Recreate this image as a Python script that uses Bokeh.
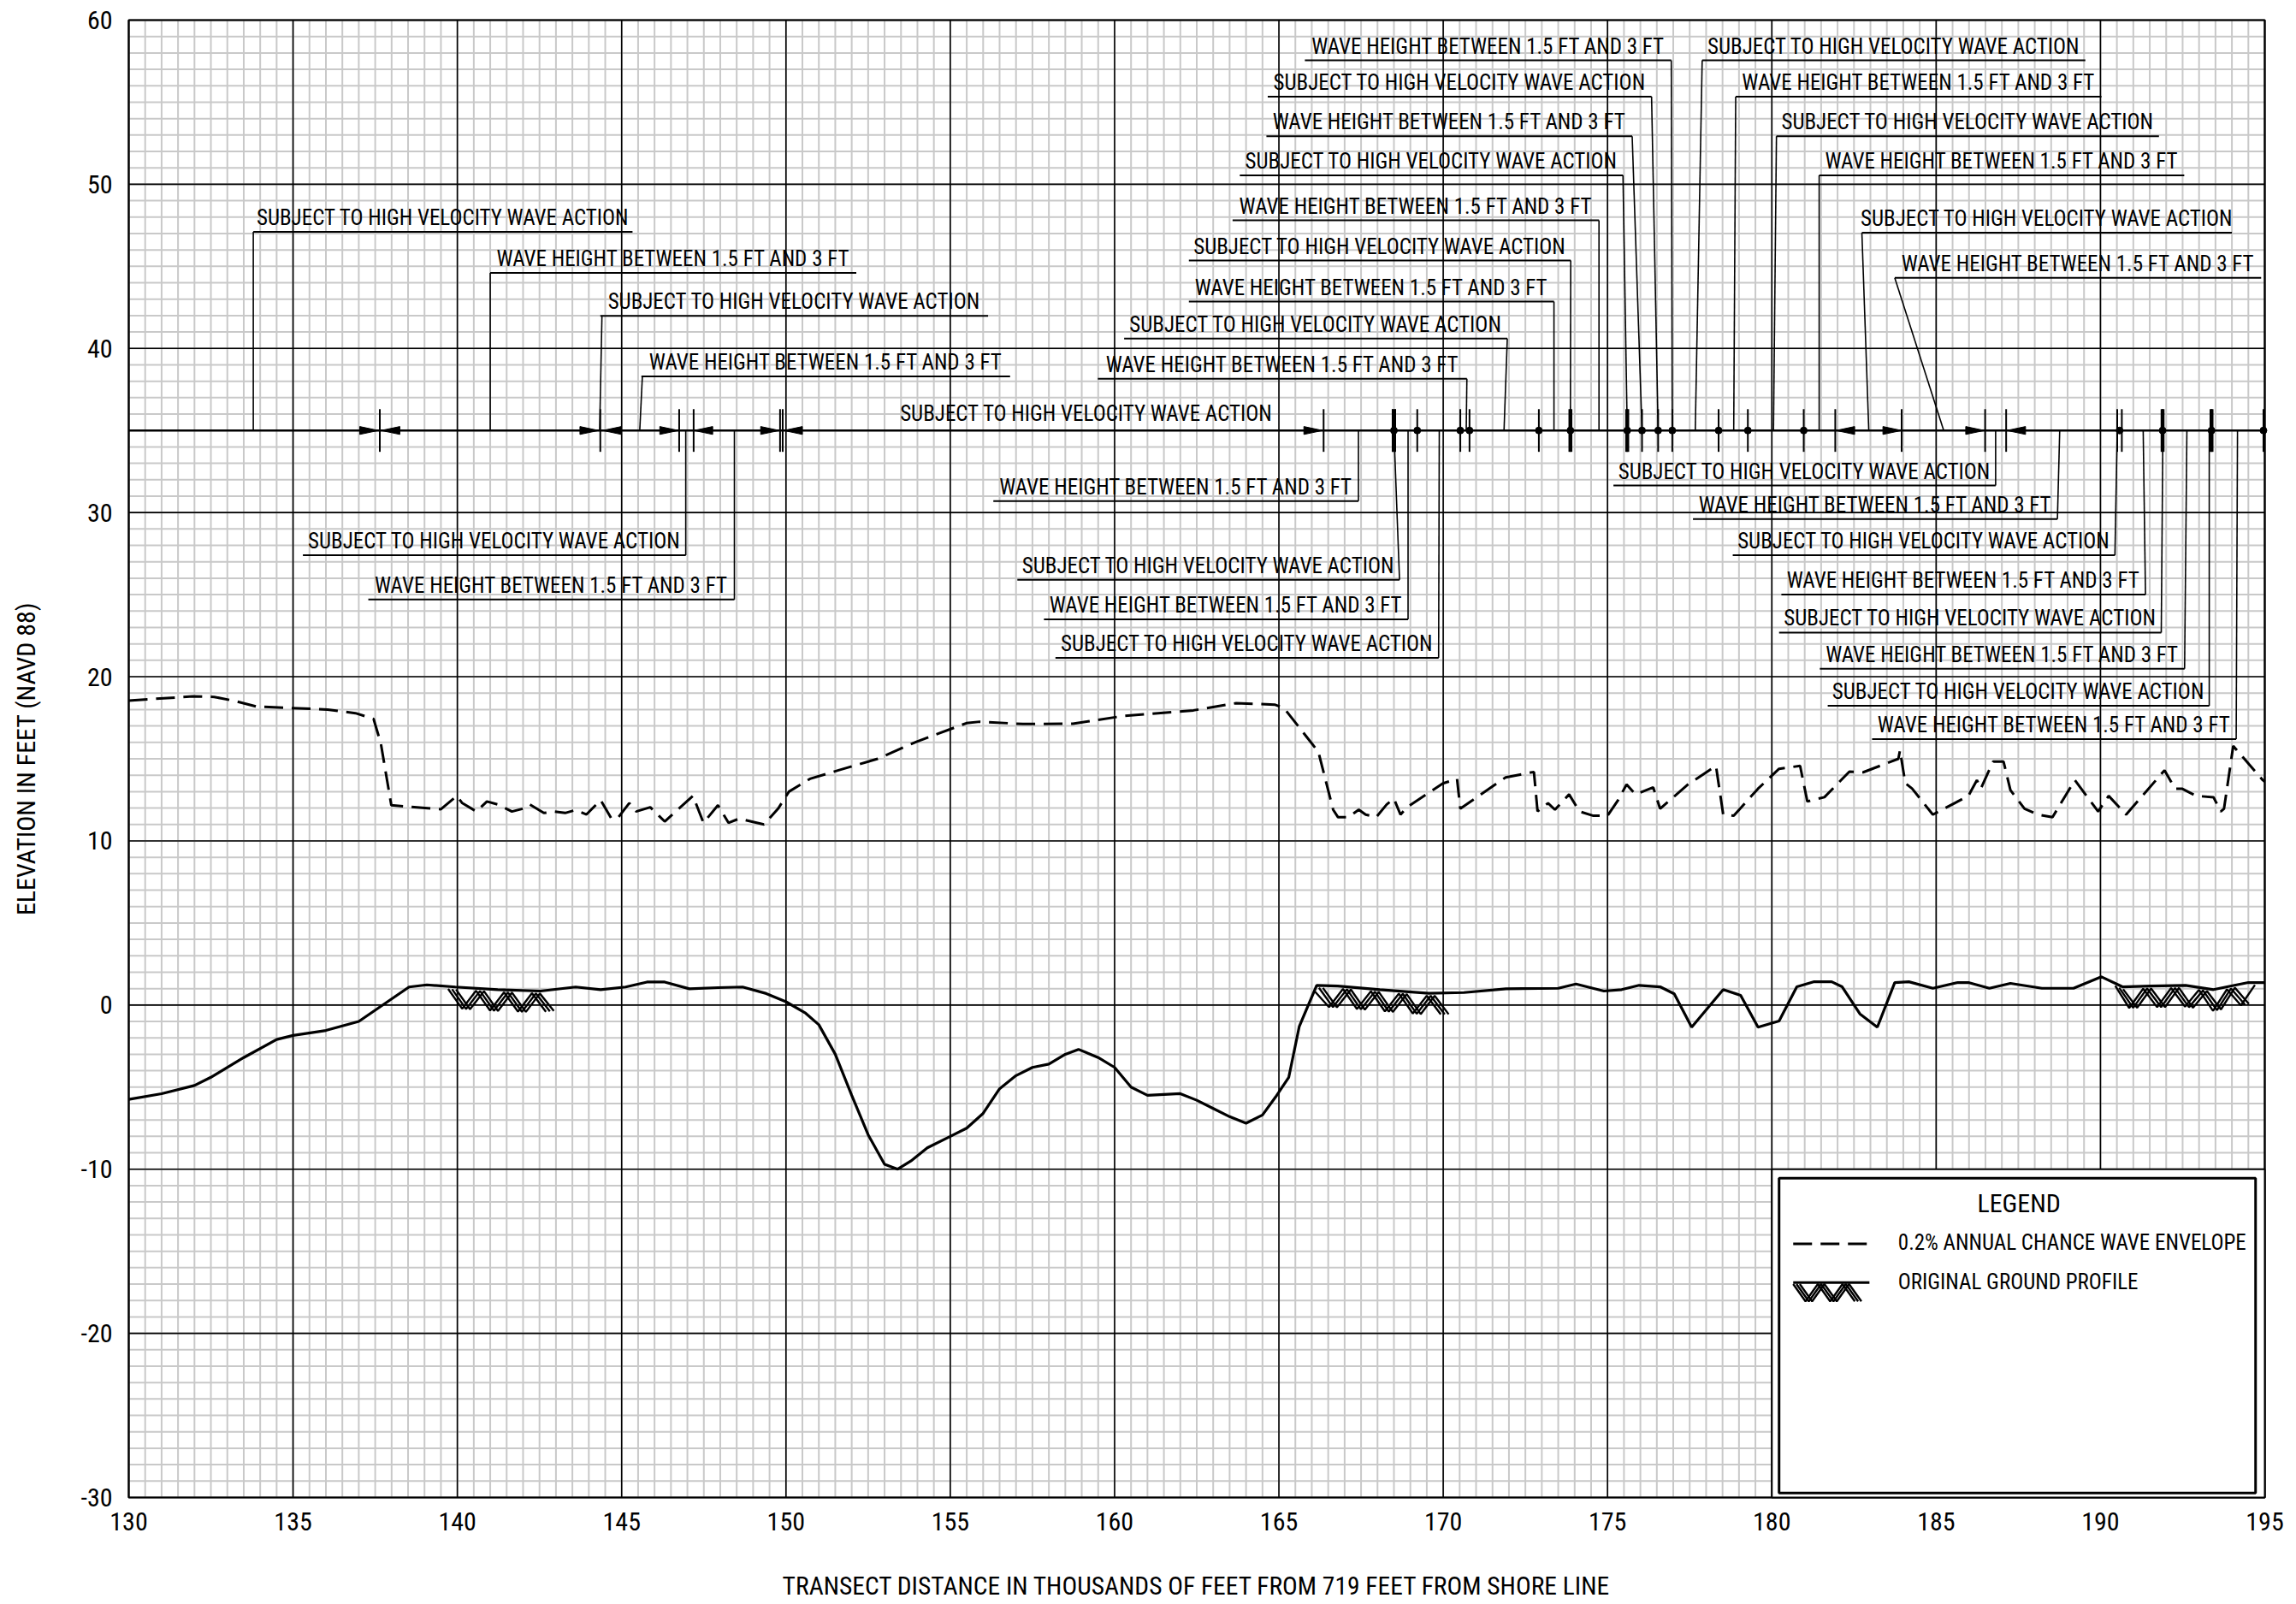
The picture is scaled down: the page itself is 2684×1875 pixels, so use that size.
import numpy as np
from bokeh.plotting import figure
from bokeh.models import Range1d, ColumnDataSource
from bokeh.core.properties import value
from bokeh.embed import file_html
from bokeh.resources import INLINE

FONT = "Roboto Condensed"
ANN_SIZE = "25px"

# ---------------- axes ----------------
X_MIN, X_MAX = 130, 195
Y_MIN, Y_MAX = -30, 60
x_major = list(range(130, 196, 5))
y_major = list(range(-30, 61, 10))
x_minor = [130 + 0.5 * i for i in range(131)]
y_minor = list(range(-30, 61))
x_title = "TRANSECT DISTANCE IN THOUSANDS OF FEET FROM 719 FEET FROM SHORE LINE"
y_title = "ELEVATION IN FEET (NAVD 88)"

# ---------------- series ----------------
env_x = [130.0, 131.94, 132.6, 133.24, 133.89, 134.97, 136.05, 136.9, 137.45, 137.67, 137.99,
         139.5, 139.98, 140.15, 140.58, 140.9, 141.23, 141.66, 141.99, 142.2, 142.63, 142.96,
         143.28, 143.6, 143.93, 144.36, 144.69, 144.9, 145.23, 145.44, 145.87, 146.31, 147.17,
         147.49, 147.93, 148.25, 148.57, 149.33, 149.76, 150.09, 150.73, 151.6, 152.79, 153.97,
         155.49, 155.9, 157.21, 158.73, 160.24, 161.32, 162.4, 163.7, 164.87, 165.15, 166.2,
         166.65, 166.8, 167.11, 167.43, 167.64, 167.96, 168.28, 168.5, 168.7, 168.9, 169.99,
         170.42, 170.52, 171.9, 172.76, 172.87, 173.19, 173.4, 173.83, 174.15, 174.57, 175.0,
         175.32, 175.58, 175.85, 176.39, 176.6, 177.45, 178.3, 178.52, 178.84, 179.58, 180.22,
         180.86, 181.08, 181.4, 181.6, 182.36, 182.78, 183.85, 183.9, 184.06, 184.27, 184.9,
         185.98, 186.24, 186.36, 186.73, 187.05, 187.26, 187.69, 188.11, 188.54, 189.22, 189.93,
         190.25, 190.78, 191.95, 192.27, 192.48, 192.91, 193.44, 193.66, 193.76, 194.04, 194.94,
         195.0]
env_y = [18.55, 18.8, 18.77, 18.52, 18.18, 18.09, 18.0, 17.78, 17.43, 15.95, 12.17,
         11.93, 12.74, 12.3, 11.79, 12.4, 12.22, 11.79, 11.96, 12.22, 11.7, 11.79,
         11.7, 11.88, 11.61, 12.48, 11.35, 11.44, 12.3, 11.79, 12.05, 11.18, 12.74,
         11.1, 12.17, 11.1, 11.35, 11.0, 11.96, 13.0, 13.78, 14.3, 15.0, 16.04,
         17.17, 17.26, 17.12, 17.14, 17.6, 17.78, 17.95, 18.39, 18.3, 18.1, 15.43,
         11.9, 11.44, 11.44, 11.9, 11.6, 11.44, 12.22, 12.57, 11.6, 12.05, 13.5,
         13.78, 11.96, 13.87, 14.2, 11.8, 12.3, 11.9, 12.83, 11.79, 11.53, 11.53,
         12.48, 13.44, 12.83, 13.26, 11.96, 13.44, 14.57, 11.6, 11.53, 13.18, 14.39,
         14.57, 12.4, 12.57, 12.66, 14.22, 14.18, 15.0, 15.52, 13.52, 13.18, 11.6,
         12.74, 13.7, 13.18, 14.83, 14.83, 13.09, 11.96, 11.6, 11.44, 13.7, 11.79,
         12.74, 11.6, 14.3, 13.18, 13.18, 12.74, 12.66, 11.79, 11.96, 15.78, 13.7,
         13.6]

gnd_x = [130.0, 131.0, 132.0, 132.5, 133.5, 134.5, 135.0, 136.0, 137.0, 138.53, 139.07,
         139.94, 141.23, 142.53, 143.6, 144.36, 145.12, 145.77, 146.31, 147.06, 147.93,
         148.68, 149.4, 150.0, 150.6, 151.0, 151.5, 152.0, 152.5, 153.0, 153.4, 153.8,
         154.3, 155.0, 155.5, 156.0, 156.5, 157.0, 157.5, 158.0, 158.5, 158.9, 159.5,
         160.0, 160.5, 161.0, 162.0, 162.5, 163.0, 163.5, 164.0, 164.5, 164.9, 165.3,
         165.62, 166.15, 166.79, 168.07, 169.56, 170.63, 171.91, 173.5, 174.04, 174.89,
         175.43, 175.96, 176.6, 177.03, 177.56, 178.52, 179.05, 179.58, 180.22, 180.76,
         181.29, 181.82, 182.14, 182.68, 183.21, 183.74, 184.17, 184.9, 185.66, 185.98,
         186.62, 187.26, 188.22, 189.18, 190.03, 190.67, 191.52, 192.59, 193.44, 194.08,
         194.5, 195.0]
gnd_y = [-5.75, -5.4, -4.9, -4.4, -3.2, -2.1, -1.85, -1.55, -1.0, 1.1, 1.23,
         1.1, 0.94, 0.85, 1.1, 0.94, 1.1, 1.4, 1.4, 0.99, 1.06,
         1.1, 0.7, 0.2, -0.5, -1.2, -3.0, -5.5, -7.9, -9.7, -10.0, -9.5,
         -8.7, -8.0, -7.5, -6.6, -5.1, -4.3, -3.8, -3.6, -3.0, -2.7, -3.2,
         -3.8, -5.0, -5.5, -5.4, -5.8, -6.3, -6.8, -7.2, -6.7, -5.6, -4.4,
         -1.3, 1.2, 1.16, 0.94, 0.71, 0.76, 0.99, 1.02, 1.28, 0.85,
         0.94, 1.2, 1.11, 0.68, -1.35, 0.94, 0.59, -1.35, -0.97, 1.11,
         1.42, 1.42, 1.11, -0.54, -1.35, 1.37, 1.42, 1.02, 1.37, 1.37,
         1.02, 1.32, 1.02, 1.02, 1.72, 1.11, 1.16, 1.2, 0.94, 1.2,
         1.37, 1.37]

hatch_start = [139.72, 166.1, 190.45]
hatch_end = [142.96, 170.3, 194.7]

# ---------------- zone annotations ----------------
ZONE_Y = 35.0
S = "SUBJECT TO HIGH VELOCITY WAVE ACTION"
W = "WAVE HEIGHT BETWEEN 1.5 FT AND 3 FT"

lab_text = [S, W, S, W, S, W,
            W, S, W, S, W, S, W, S, W,
            S, W, S, W, S, W,
            W, S, W, S,
            S, W, S, W, S, W, S, W]
lab_x0 = [133.79, 141.0, 144.35, 145.6, 135.3, 137.29,
          165.79, 164.66, 164.62, 163.81, 163.59, 162.26, 162.26, 160.29, 159.49,
          177.88, 178.9, 180.14, 181.44, 182.74, 183.74,
          156.31, 157.04, 157.85, 158.2,
          175.18, 177.6, 178.81, 180.29, 180.22, 181.46, 181.7, 183.05]
lab_x1 = [145.33, 152.14, 156.15, 156.82, 146.95, 148.43,
          176.94, 176.34, 175.75, 175.47, 174.74, 173.88, 173.37, 171.95, 170.72,
          189.54, 190.03, 191.78, 192.55, 194.0, 194.89,
          167.42, 168.67, 168.93, 169.86,
          186.81, 188.69, 190.44, 191.37, 191.85, 192.56, 193.31, 194.13]
lab_y = [47.1, 44.6, 41.98, 38.3, 27.4, 24.7,
         57.55, 55.34, 52.92, 50.54, 47.8, 45.35, 42.85, 40.6, 38.15,
         57.55, 55.34, 52.92, 50.54, 47.05, 44.3,
         30.7, 25.9, 23.5, 21.15,
         31.65, 29.6, 27.4, 25.0, 22.69, 20.49, 18.23, 16.2]
lead_from_x = [133.79, 141.0, 144.4, 145.63, 146.95, 148.43,
               176.94, 176.34, 175.75, 175.47, 174.74, 173.88, 173.37, 171.95, 170.72,
               177.88, 178.9, 180.14, 181.44, 182.74, 183.74,
               167.42, 168.67, 168.93, 169.86,
               186.81, 188.69, 190.44, 191.37, 191.85, 192.56, 193.31, 194.13]
lead_to_x = [133.79, 141.0, 144.33, 145.55, 146.95, 148.43,
             176.97, 176.54, 176.05, 175.6, 174.74, 173.87, 173.37, 171.85, 170.7,
             177.67, 178.84, 180.05, 181.44, 182.95, 185.23,
             167.42, 168.5, 168.93, 169.88,
             186.81, 188.76, 190.51, 191.3, 191.9, 192.63, 193.31, 194.17]

online_text = [S]
online_x = [159.14]

zone_ticks = [137.64, 144.35, 146.75, 147.19, 149.82, 149.9, 166.36, 168.46, 168.54, 169.21,
              170.52, 170.8, 172.91, 173.87, 175.6, 176.05, 176.54, 176.97, 178.38, 179.27,
              180.97, 181.93, 183.95, 186.49, 187.13, 190.51, 190.65, 191.89, 193.38, 194.96]
zone_ticks_bold = [168.5, 173.87, 175.6, 191.89, 193.38]
zone_dots = [168.5, 169.21, 170.52, 170.8, 172.91, 173.87, 175.6, 176.05, 176.54, 176.97,
             178.38, 179.27, 180.97, 190.58, 191.89, 193.38, 194.96]
arrow_right_tips = [137.6, 144.3, 146.73, 149.8, 166.33, 183.95, 186.47]
arrow_left_tips = [137.68, 144.42, 147.2, 149.93, 181.95, 187.15]

# ---------------- layout (pixels) ----------------
PLOT_W, PLOT_H = 2497, 1727                       # chart area in pixels
LEFT_PAD, RIGHT_PAD, TOP_PAD, BOTTOM_PAD = 150, 28, 23, 122
PX_X = PLOT_W / (X_MAX - X_MIN)
PX_Y = PLOT_H / (Y_MAX - Y_MIN)
xr = Range1d(X_MIN - LEFT_PAD / PX_X, X_MAX + RIGHT_PAD / PX_X)
yr = Range1d(Y_MIN - BOTTOM_PAD / PX_Y, Y_MAX + TOP_PAD / PX_Y)

p = figure(frame_width=PLOT_W + LEFT_PAD + RIGHT_PAD, frame_height=PLOT_H + TOP_PAD + BOTTOM_PAD,
           x_range=xr, y_range=yr, x_axis_location=None, y_axis_location=None,
           output_backend="svg", toolbar_location=None,
           min_border_left=0, min_border_right=0, min_border_top=0, min_border_bottom=0,
           background_fill_color="white", border_fill_color="white")
p.outline_line_color = None
p.xgrid.visible = False
p.ygrid.visible = False

# ---------------- grid (graph paper) ----------------
p.segment(x0=x_minor, y0=[Y_MIN] * len(x_minor), x1=x_minor, y1=[Y_MAX] * len(x_minor),
          line_color="#c9c9c9", line_width=2)
p.segment(x0=[X_MIN] * len(y_minor), y0=y_minor, x1=[X_MAX] * len(y_minor), y1=y_minor,
          line_color="#c9c9c9", line_width=2)
p.segment(x0=x_major, y0=[Y_MIN] * len(x_major), x1=x_major, y1=[Y_MAX] * len(x_major),
          line_color="black", line_width=1.6)
p.segment(x0=[X_MIN] * len(y_major), y0=y_major, x1=[X_MAX] * len(y_major), y1=y_major,
          line_color="black", line_width=1.6)
p.quad(left=[X_MIN], right=[X_MAX], bottom=[Y_MIN], top=[Y_MAX], fill_color=None,
       line_color="black", line_width=2.2)

# ---------------- tick labels and titles ----------------
p.text(x=x_major, y=[Y_MIN - 28 / PX_Y] * len(x_major), text=[str(v) for v in x_major],
       text_font=value(FONT), text_font_size="30px", text_align="center",
       text_baseline="middle", text_color="black")
p.text(x=[X_MIN - 19 / PX_X] * len(y_major), y=y_major, text=[str(v) for v in y_major],
       text_font=value(FONT), text_font_size="30px", text_align="right",
       text_baseline="middle", text_color="black")
p.text(x=[(X_MIN + X_MAX) / 2], y=[Y_MIN - 103 / PX_Y], text=[x_title],
       text_font=value(FONT), text_font_size="29.5px", text_align="center",
       text_baseline="middle", text_color="black")
p.text(x=[X_MIN - 120 / PX_X], y=[(Y_MIN + Y_MAX) / 2], text=[y_title], angle=np.pi / 2,
       text_font=value(FONT), text_font_size="30px", text_align="center",
       text_baseline="middle", text_color="black")

# ---------------- profile lines ----------------
p.line(env_x, env_y, line_color="black", line_width=3, line_dash="22 10")
p.line(gnd_x, gnd_y, line_color="black", line_width=3.2)


def zigzag(xa, xb, top_fn, depth=1.15, period=0.85, offsets=(0.0, 0.12, 0.24)):
    xs_out, ys_out = [], []
    n_half = int(np.floor((xb - xa) / (period / 2)))
    for off in offsets:
        xs, ys = [], []
        for i in range(n_half + 1):
            xx = xa + i * period / 2 + off
            if xx > xb + 0.05:
                break
            t = top_fn(xx)
            xs.append(xx)
            ys.append(t if i % 2 == 0 else t - depth)
        xs_out.append(xs)
        ys_out.append(ys)
    return xs_out, ys_out


hx, hy = [], []
for a, b in zip(hatch_start, hatch_end):
    zx, zy = zigzag(a, b, lambda v: float(np.interp(v, gnd_x, gnd_y)) - 0.15)
    hx += zx
    hy += zy
p.multi_line(hx, hy, line_color="black", line_width=2.4)

# ---------------- zone line, ticks, arrows ----------------
p.segment(x0=[X_MIN], y0=[ZONE_Y], x1=[X_MAX], y1=[ZONE_Y], line_color="black", line_width=2.6)
p.segment(x0=zone_ticks, y0=[ZONE_Y - 1.3] * len(zone_ticks), x1=zone_ticks,
          y1=[ZONE_Y + 1.3] * len(zone_ticks), line_color="black", line_width=2)
p.segment(x0=zone_ticks_bold, y0=[ZONE_Y - 1.3] * len(zone_ticks_bold), x1=zone_ticks_bold,
          y1=[ZONE_Y + 1.3] * len(zone_ticks_bold), line_color="black", line_width=4.5)
p.scatter(zone_dots, [ZONE_Y] * len(zone_dots), size=8, marker="circle",
          fill_color="black", line_color="black")

AH_L, AH_W = 0.57, 0.24
axs = [[t, t - AH_L, t - AH_L] for t in arrow_right_tips] + \
      [[t, t + AH_L, t + AH_L] for t in arrow_left_tips]
ays = [[ZONE_Y, ZONE_Y + AH_W, ZONE_Y - AH_W] for _ in arrow_right_tips + arrow_left_tips]
p.patches(axs, ays, fill_color="black", line_color="black", line_width=1)

src = ColumnDataSource(dict(
    text=lab_text, x0=lab_x0, x1=lab_x1, y=lab_y, lf=lead_from_x, lt=lead_to_x,
    xc=[(a + b) / 2 for a, b in zip(lab_x0, lab_x1)], zy=[ZONE_Y] * len(lab_text)))
p.segment(x0="x0", y0="y", x1="x1", y1="y", source=src, line_color="black", line_width=2)
p.segment(x0="lf", y0="y", x1="lt", y1="zy", source=src, line_color="black", line_width=1.6)
p.text(x="xc", y="y", text="text", source=src, text_font=value(FONT), text_font_size=ANN_SIZE,
       text_align="center", text_baseline="bottom", text_color="black", y_offset=-2)
p.text(x=online_x, y=[ZONE_Y] * len(online_x), text=online_text, text_font=value(FONT),
       text_font_size=ANN_SIZE, text_align="center", text_baseline="bottom",
       text_color="black", y_offset=-5)

# ---------------- legend box ----------------
p.quad(left=[180], right=[195], bottom=[-30], top=[-10], fill_color="white",
       line_color="black", line_width=2)
p.quad(left=[180.22], right=[194.72], bottom=[-29.72], top=[-10.55], fill_color=None,
       line_color="black", line_width=3)
p.text(x=[187.52], y=[-12.05], text=["LEGEND"], text_font=value(FONT), text_font_size="30px",
       text_align="center", text_baseline="middle", text_color="black")
p.segment(x0=[180.65], y0=[-14.55], x1=[182.97], y1=[-14.55], line_color="black",
          line_width=3, line_dash="22 10")
p.text(x=[183.84], y=[-14.45], text=["0.2% ANNUAL CHANCE WAVE ENVELOPE"], text_font=value(FONT),
       text_font_size=ANN_SIZE, text_align="left", text_baseline="middle", text_color="black")
p.segment(x0=[180.65], y0=[-16.9], x1=[182.97], y1=[-16.9], line_color="black", line_width=3)
lzx, lzy = zigzag(180.65, 182.8, lambda v: -17.0, depth=1.05, period=0.75,
                  offsets=(0.0, 0.1, 0.2))
p.multi_line(lzx, lzy, line_color="black", line_width=2.4)
p.text(x=[183.84], y=[-16.85], text=["ORIGINAL GROUND PROFILE"], text_font=value(FONT),
       text_font_size=ANN_SIZE, text_align="left", text_baseline="middle", text_color="black")

open("out.html", "w").write(file_html(p, INLINE))
